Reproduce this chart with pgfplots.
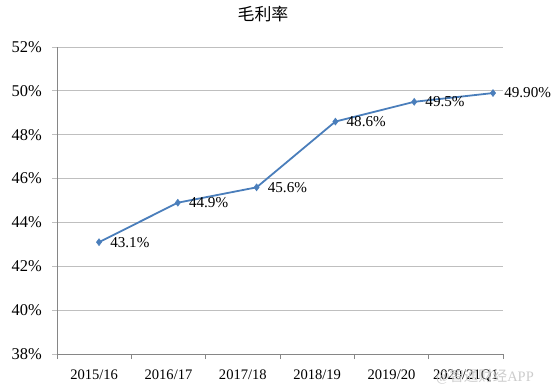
\documentclass[border=0pt]{standalone}
\usepackage{pgfplots}
\pgfplotsset{compat=1.18}
\usepackage{pgfplotstable}
\usepackage{fontspec}
\setmainfont{Liberation Serif}
\newfontfamily\cjk{Noto Sans CJK SC}
\definecolor{linecol}{HTML}{4A7EBB}
\definecolor{gridcol}{HTML}{BFBFBF}
\definecolor{axcol}{HTML}{868686}
\pgfplotstableread{
x y lab
0 43.1 43.1\%
1 44.9 44.9\%
2 45.6 45.6\%
3 48.6 48.6\%
4 49.5 49.5\%
5 49.9 49.90\%
}\datatab
\begin{document}
\begin{tikzpicture}[x=1bp,y=1bp]
\path[use as bounding box] (0,0) rectangle (554,390);
\node[font=\cjk\fontsize{17}{19}\selectfont] at (263,376) {毛利率};
\begin{axis}[
  at={(57bp,36bp)}, anchor=south west,
  scale only axis, width=446bp, height=307bp,
  xmin=-0.533, xmax=5.127,
  ymin=38, ymax=52,
  ytick={38,40,...,52},
  yticklabel={\pgfmathprintnumber{\tick}\%},
  /pgf/number format/assume math mode=true,
  axis lines=left,
  axis line style={-, axcol, line width=0.8bp},
  ymajorgrids, grid style={gridcol, line width=0.8bp},
  xtick={-0.0613,0.882,1.8253,2.7687,3.712,4.6553},
  xticklabels={2015/16,2016/17,2017/18,2018/19,2019/20,2020/21Q1},
  minor xtick={-0.533,0.4103,1.3537,2.297,3.2403,4.1837,5.127},
  x tick style={draw=none},
  minor x tick style={draw=axcol, line width=0.8bp},
  minor tick length=5bp,
  y tick style={draw=gridcol, line width=0.8bp},
  major tick length=5bp,
  tick align=outside,
  yticklabel style={font=\fontsize{16.5}{18}\selectfont, anchor=east, inner sep=0pt, xshift=-10bp},
  xticklabel style={font=\fontsize{14.6}{16}\selectfont, anchor=north, inner sep=0pt, yshift=-11bp},
  clip=false,
]
\addplot[linecol, line width=1.8bp, mark=diamond*, mark size=3.5bp,
  mark options={fill=linecol, draw=linecol, line width=0.5bp},
  nodes near coords, point meta=explicit symbolic,
  nodes near coords style={anchor=west, inner sep=0pt, xshift=11bp, text=black, font=\fontsize{15.2}{17}\selectfont}]
  table[x=x, y=y, meta=lab] {\datatab};
\end{axis}
\node[anchor=west, inner sep=0pt, text=gray!40, font=\fontsize{14.5}{16}\selectfont] at (436,13) {@{\cjk 智通财经}APP};
\end{tikzpicture}
\end{document}
